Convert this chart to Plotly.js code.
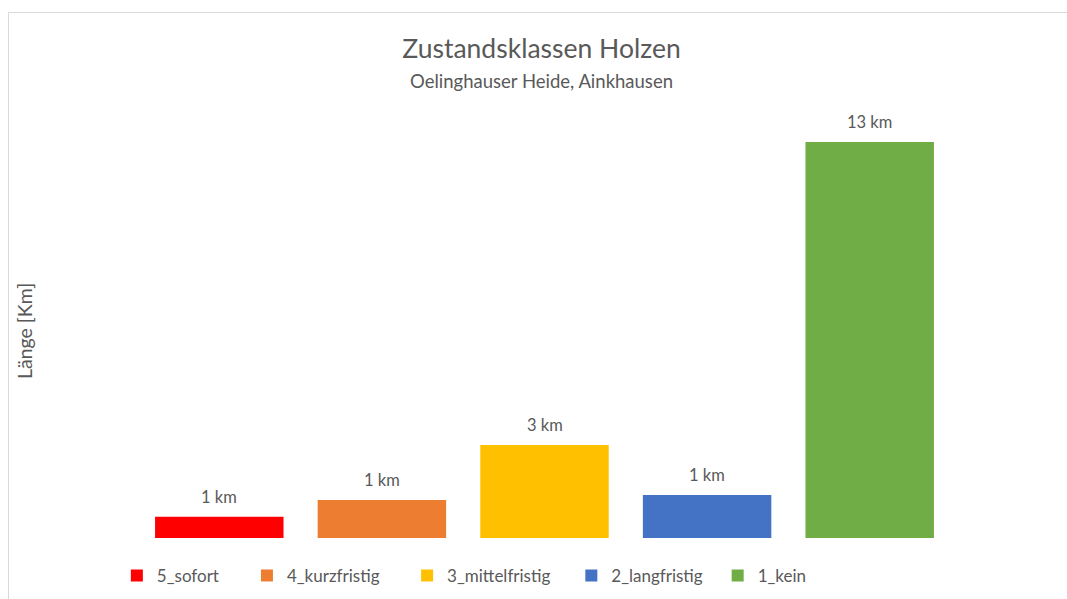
<!DOCTYPE html>
<html>
<head>
<meta charset="utf-8">
<script src="https://cdn.plot.ly/plotly-3.0.1.min.js"></script>
<style>
  html, body { margin: 0; padding: 0; background: #ffffff; }
  #frame { position: absolute; left: 8px; top: 12px; width: 1200px; height: 800px;
           border-left: 1px solid #d9d9d9; border-top: 1px solid #d9d9d9; pointer-events: none; z-index: 2; }
  #chart { position: absolute; left: 0; top: 0; width: 1067px; height: 599px; }
</style>
</head>
<body>
<div id="chart"></div>
<div id="frame"></div>
<script>
const categories = ["5_sofort", "4_kurzfristig", "3_mittelfristig", "2_langfristig", "1_kein"];
const values = [0.70, 1.25, 3.05, 1.41, 13.0];
const colors = ["#FF0000", "#ED7D31", "#FFC000", "#4472C4", "#70AD47"];
const titleText = "Zustandsklassen Holzen";
const subtitleText = "Oelinghauser Heide, Ainkhausen";
const yTitle = "Länge [Km]";
const unit = " km";

const FONT = "Lato, 'Open Sans', 'Liberation Sans', sans-serif";
const GRAY = "#595959";

// legend entry left edges (paper fraction of plot width)
const legendX = [-0.026, 0.134, 0.331, 0.533, 0.713];

const traces = categories.map((c, i) => ({
  type: "bar",
  name: c,
  x: [c],
  y: [values[i]],
  width: 0.79,
  marker: { color: colors[i] },
  legend: i === 0 ? "legend" : "legend" + (i + 1),
  hoverinfo: "skip"
}));

const annotations = categories.map((c, i) => ({
  x: c, y: values[i], xref: "x", yref: "y",
  text: Math.round(values[i]) + unit,
  showarrow: false, yanchor: "bottom", yshift: 8,
  font: { family: FONT, size: 16.5, color: GRAY }
}));

annotations.push({
  xref: "paper", yref: "paper", x: 0.496, y: 1,
  xanchor: "center", yanchor: "middle", yshift: 19,
  text: subtitleText, showarrow: false,
  font: { family: FONT, size: 18.5, color: GRAY }
});

annotations.push({
  xref: "paper", yref: "paper", x: 0, y: 0.4726,
  xanchor: "center", yanchor: "middle", xshift: -114,
  text: yTitle, textangle: -90, showarrow: false,
  font: { family: FONT, size: 19.5, color: GRAY }
});

const layout = {
  width: 1067, height: 599,
  paper_bgcolor: "#ffffff", plot_bgcolor: "#ffffff",
  margin: { l: 138, r: 116, t: 100, b: 61, pad: 0, autoexpand: false },
  barmode: "overlay",
  title: {
    text: titleText, x: 0.5075, xanchor: "center", y: 0.918, yanchor: "middle",
    font: { family: FONT, size: 26.5, color: GRAY }
  },
  xaxis: {
    categoryorder: "array", categoryarray: categories,
    showticklabels: false, showgrid: false, zeroline: false, showline: false, ticks: ""
  },
  yaxis: {
    range: [0, 14.38], showticklabels: false, showgrid: false, zeroline: false, showline: false, ticks: ""
  },
  showlegend: true,
  annotations: annotations
};

legendX.forEach((lx, i) => {
  const key = i === 0 ? "legend" : "legend" + (i + 1);
  layout[key] = {
    orientation: "h", x: lx, xanchor: "left", y: -0.0455, yanchor: "top",
    font: { family: FONT, size: 17, color: GRAY },
    bgcolor: "rgba(0,0,0,0)", itemwidth: 30
  };
});

Plotly.newPlot("chart", traces, layout, { displayModeBar: false, staticPlot: true });
</script>
</body>
</html>
